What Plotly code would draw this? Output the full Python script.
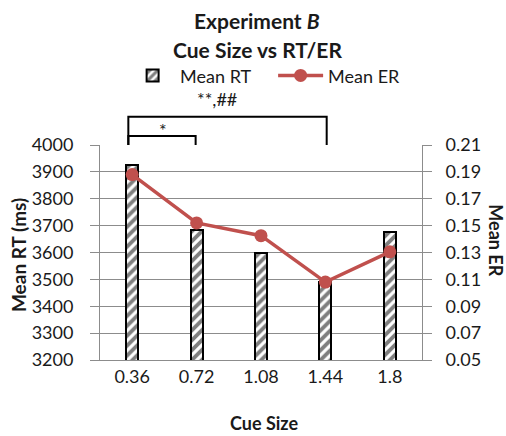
import plotly.graph_objects as go

# ---- data ----
cue_sizes = ["0.36", "0.72", "1.08", "1.44", "1.8"]
mean_rt = [3927, 3682, 3600, 3490, 3678]
mean_er = [0.188, 0.152, 0.1425, 0.108, 0.1305]
rt_ticks = list(range(3200, 4001, 100))
er_ticks = [0.05, 0.07, 0.09, 0.11, 0.13, 0.15, 0.17, 0.19, 0.21]

FONT = "Lato"
TXT = "#1a1a1a"
GRID = "#8c8c8c"
RED = "#C0504D"

fig = go.Figure()
fig.add_trace(go.Bar(
    x=cue_sizes, y=mean_rt, name="Mean RT", width=0.185,
    marker=dict(color="white", line=dict(color="black", width=2),
                pattern=dict(shape="/", fgcolor="black", bgcolor="white",
                             size=7, solidity=0.55)),
))
fig.add_trace(go.Scatter(
    x=cue_sizes, y=mean_er, name="Mean ER", yaxis="y2", mode="lines+markers",
    line=dict(color=RED, width=3.5), marker=dict(color=RED, size=13),
))

n = len(cue_sizes)
def cx(i, off=0.0):
    return (i + 0.5) / n + off

shapes = []
for (a, b, top, off_b) in [(0, 3, 1.1316, 0.004), (0, 1, 1.042, -0.003)]:
    xa, xb = cx(a, -0.012), cx(b, off_b)
    shapes.append(dict(type="path", xref="paper", yref="paper",
                       path=f"M {xa},1.0 L {xa},{top} L {xb},{top} L {xb},1.0",
                       line=dict(color="black", width=2)))

annotations = [
    dict(text="<b>Experiment <i>B</i></b>", x=0.4876, y=1.581, xref="paper", yref="paper",
         showarrow=False, font=dict(size=21, family=FONT, color=TXT), yanchor="middle"),
    dict(text="<b>Cue Size vs RT/ER</b>", x=0.4876, y=1.442, xref="paper", yref="paper",
         showarrow=False, font=dict(size=21, family=FONT, color=TXT), yanchor="middle"),
    dict(text="**,##", x=0.363, y=1.212, xref="paper", yref="paper", showarrow=False,
         font=dict(size=18, family=FONT, color=TXT), yanchor="middle"),
    dict(text="*", x=0.176, y=1.07, xref="paper", yref="paper", showarrow=False,
         font=dict(size=18, family=FONT, color=TXT), yanchor="middle"),
    dict(text="<b>Mean RT (ms)</b>", textangle=-90, x=-0.2547, y=0.488, xref="paper", yref="paper",
         showarrow=False, font=dict(size=19, family=FONT, color=TXT), xanchor="center", yanchor="middle"),
    dict(text="<b>Mean ER</b>", textangle=90, x=1.229, y=0.558, xref="paper", yref="paper",
         showarrow=False, font=dict(size=18, family=FONT, color=TXT), xanchor="center", yanchor="middle"),
    dict(text="<b>Cue Size</b>", x=0.508, y=-0.293, xref="paper", yref="paper",
         showarrow=False, font=dict(size=18, family=FONT, color=TXT), yanchor="middle"),
]

fig.update_layout(
    width=506, height=436,
    margin=dict(l=100, r=84, t=145, b=76),
    paper_bgcolor="white", plot_bgcolor="white",
    font=dict(family=FONT, color=TXT),
    showlegend=True,
    legend=dict(orientation="h", x=0.078, y=1.322, xanchor="left", yanchor="middle",
                font=dict(size=18, family=FONT, color=TXT), bgcolor="rgba(0,0,0,0)",
                itemwidth=45, entrywidth=88, traceorder="normal"),
    xaxis=dict(type="category", showline=True, linecolor=GRID, linewidth=1,
               ticks="", tickfont=dict(size=18, family=FONT, color=TXT), showgrid=False),
    yaxis=dict(range=[3200, 4000], tickvals=rt_ticks, showgrid=True, gridcolor=GRID, gridwidth=1,
               showline=True, linecolor=GRID, ticks="outside", ticklen=9, tickcolor=GRID,
               tickfont=dict(size=18, family=FONT, color=TXT), ticklabelstandoff=13, zeroline=False),
    yaxis2=dict(range=[0.05, 0.21], tickvals=er_ticks, tickformat=".2f", overlaying="y", side="right",
                showgrid=False, showline=True, linecolor=GRID, ticks="outside", ticklen=9, tickcolor=GRID,
                tickfont=dict(size=18, family=FONT, color=TXT), ticklabelstandoff=10, zeroline=False),
    shapes=shapes, annotations=annotations,
    bargap=0.0,
)

fig.write_html("out.html", config={"displayModeBar": False},
               post_script="document.body.style.margin='0';document.body.style.overflow='hidden';")
